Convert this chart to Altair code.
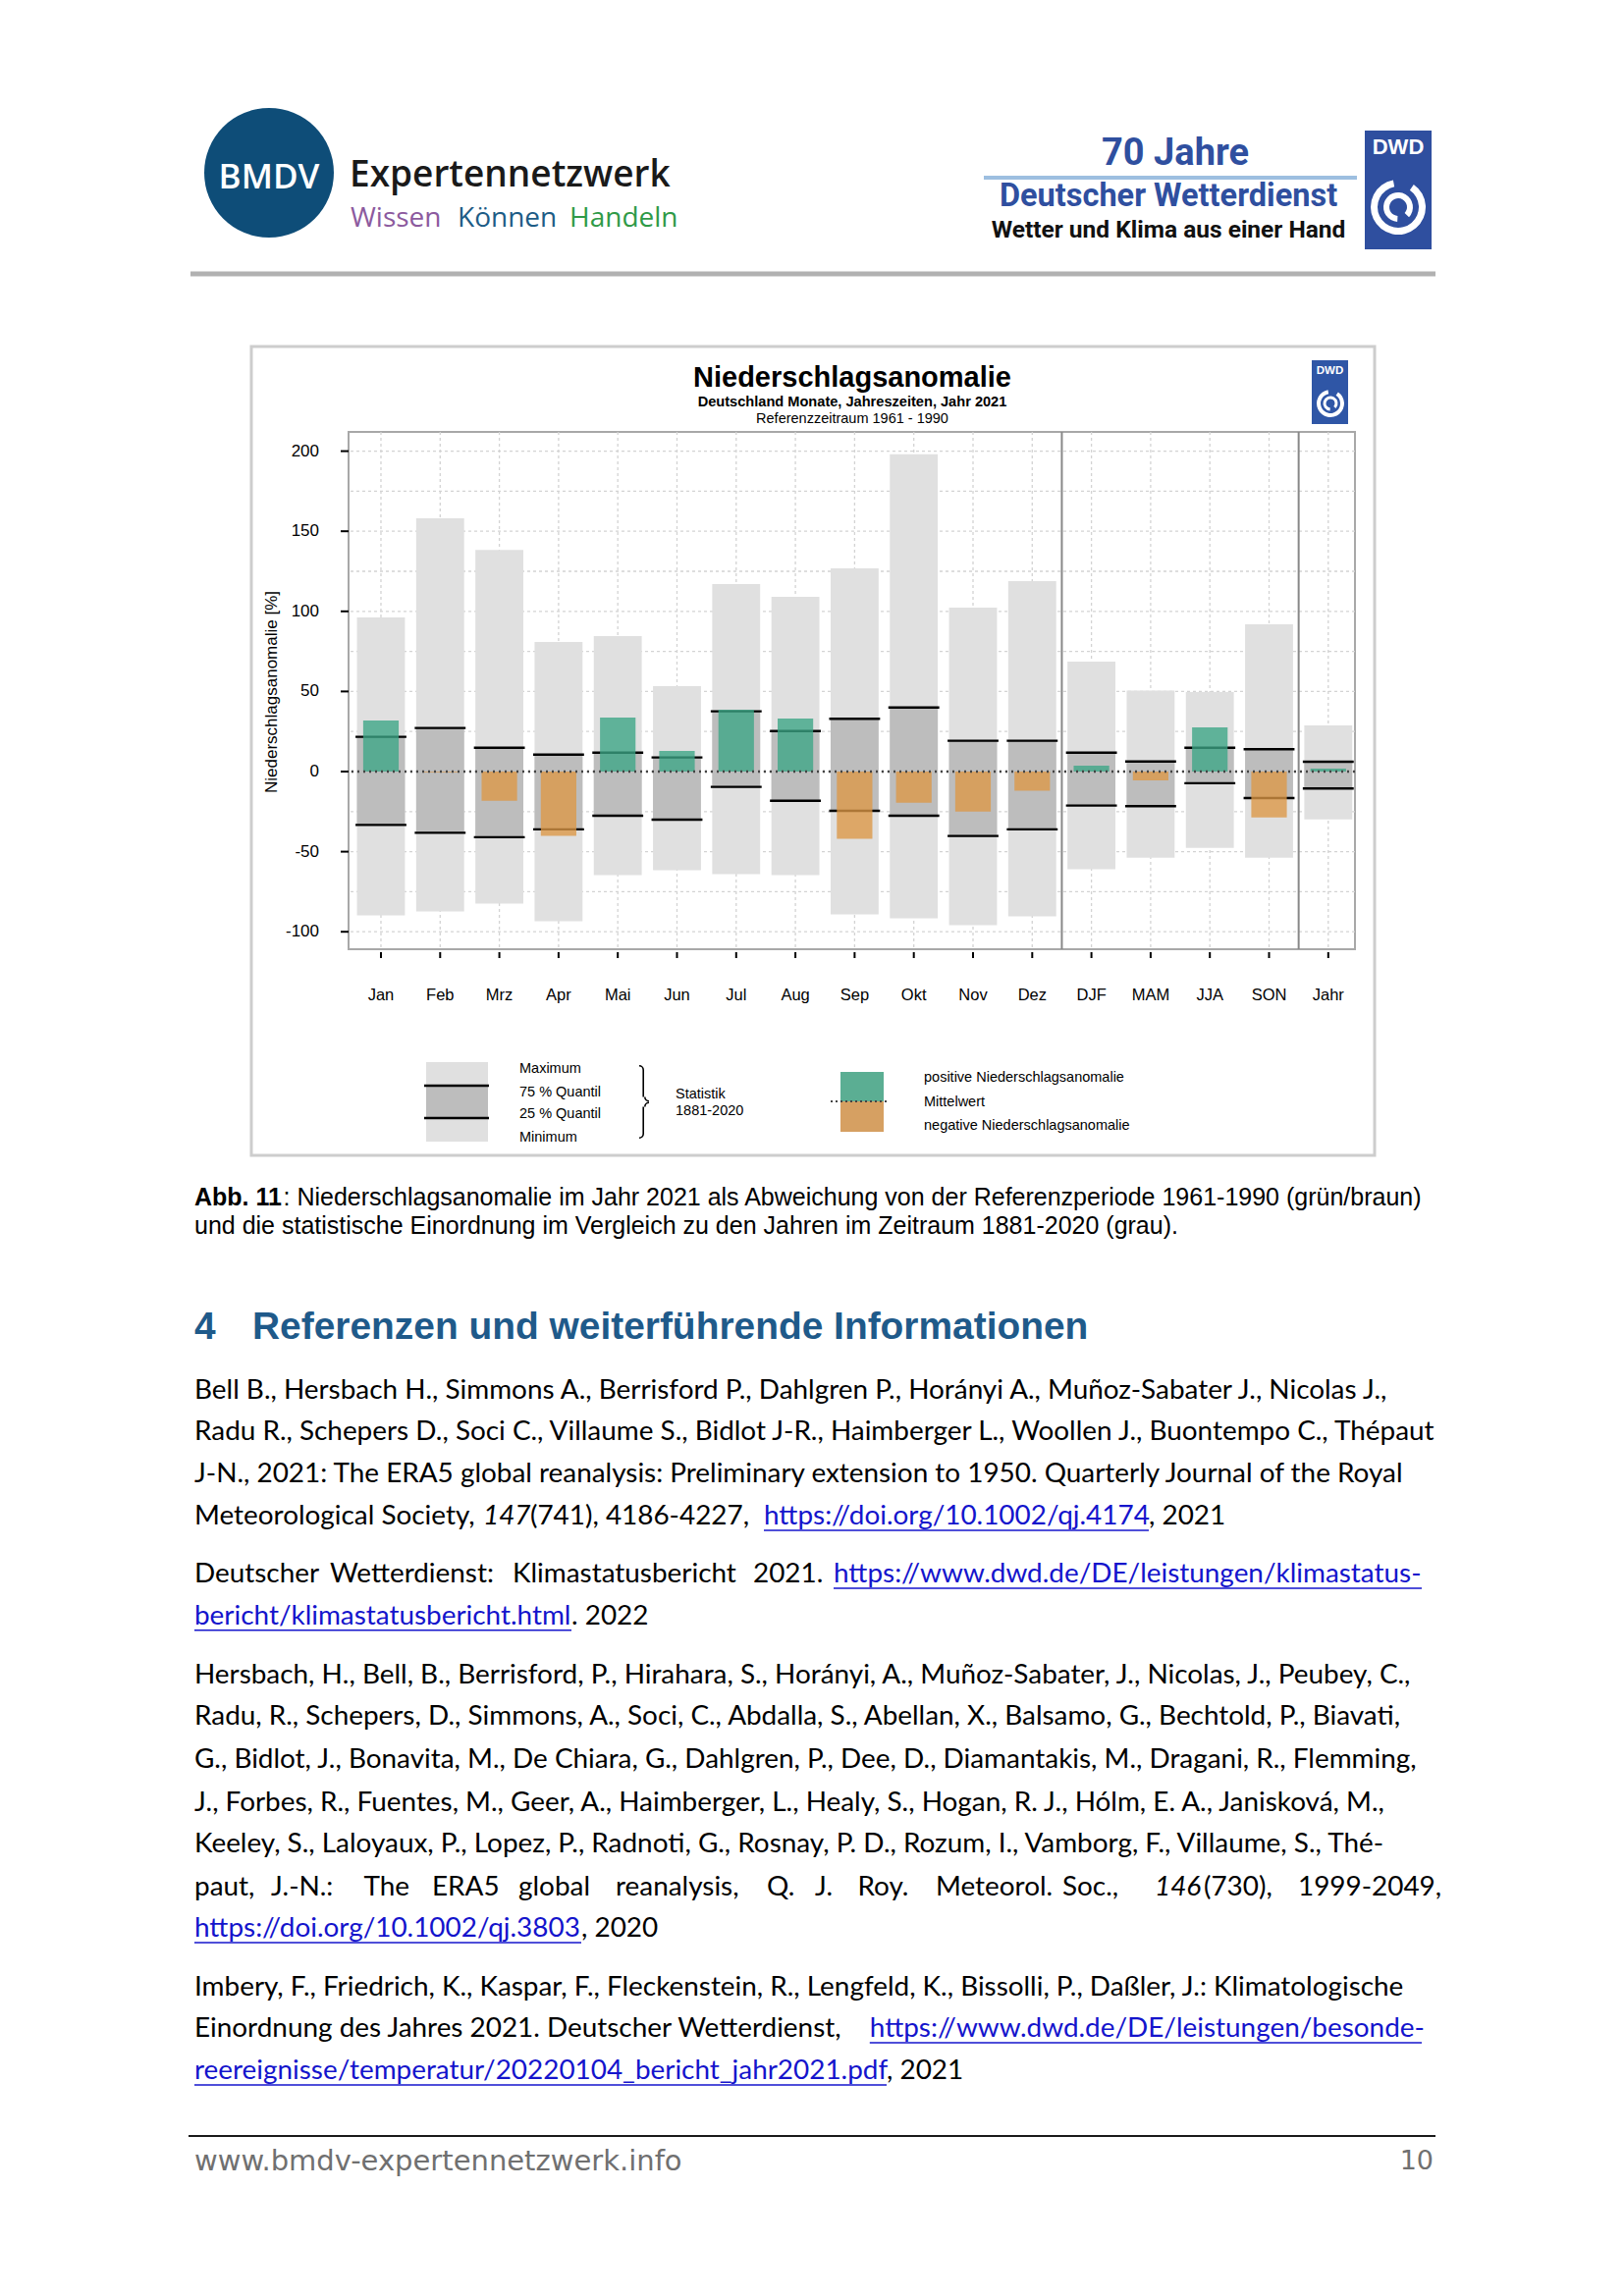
import math
import altair as alt
import pandas as pd

# ------------------------------------------------------------------ data
categories = ["Jan", "Feb", "Mrz", "Apr", "Mai", "Jun", "Jul", "Aug", "Sep", "Okt",
              "Nov", "Dez", "DJF", "MAM", "JJA", "SON", "Jahr"]
groups = ["Monat"] * 12 + ["Jahreszeit"] * 4 + ["Jahr"]
minimum = [-89.8, -87.3, -82.4, -93.5, -64.7, -61.6, -64.1, -64.7, -89.2, -91.6,
           -95.9, -90.4, -61.0, -53.7, -47.6, -53.7, -29.8]
quantil25 = [-33.3, -38.2, -41.0, -36.1, -27.6, -30.0, -9.6, -18.2, -24.5, -27.6,
             -40.2, -36.1, -21.2, -21.6, -7.3, -16.5, -10.6]
quantil75 = [21.7, 27.2, 14.9, 10.6, 11.8, 8.8, 37.6, 25.3, 32.9, 40.0,
             19.2, 19.2, 11.8, 6.3, 14.9, 13.9, 6.1]
maximum = [96.2, 158.1, 138.3, 80.9, 84.6, 53.3, 117.0, 109.0, 126.9, 198.0,
           102.3, 118.9, 68.6, 50.5, 49.6, 91.9, 28.8]
anomalie = [31.9, -0.5, -18.2, -40.2, 33.7, 12.9, 38.6, 33.1, -42.0, -19.4,
            -24.9, -12.0, 3.7, -5.5, 27.6, -28.6, 1.8]
y_ticks = [-100, -50, 0, 50, 100, 150, 200]
grid_values = [-100, -75, -50, -25, 0, 25, 50, 75, 100, 125, 150, 175, 200]

df = pd.DataFrame({
    "cat": categories,
    "idx": list(range(1, len(categories) + 1)),
    "minimum": minimum, "quantil25": quantil25, "quantil75": quantil75,
    "maximum": maximum, "anomalie": anomalie,
})
separators = [i + 0.5 for i in range(1, len(groups)) if groups[i] != groups[i - 1]]

# ------------------------------------------------------------------ layout
X0, Y0 = 355, 440          # page position of the plot area
W, H = 1025, 527
GREEN, ORANGE = "#3ba585", "#dc9745"
LGREEN, LORANGE = "#5bae93", "#d6a062"
BLUE_DWD = "#2f4f9f"
LINK = "#1414cc"

xs = alt.Scale(domain=[0.453, 17.451], nice=False, zero=False)
ys = alt.Scale(domain=[-110.9, 212.0], nice=False, zero=False)

base = alt.Chart(df).transform_calculate(
    bl="datum.idx - 0.405", br="datum.idx + 0.405",
    ql="datum.idx - 0.43", qr="datum.idx + 0.43",
    al="datum.idx - 0.30", ar="datum.idx + 0.30",
    null0="0",
)

hgrid = alt.Chart(pd.DataFrame({"v": grid_values})).mark_rule(
    color="#d3d3d3", strokeDash=[3, 3], strokeWidth=1.3
).encode(y=alt.Y("v:Q", scale=ys, axis=None))

vgrid = base.mark_rule(color="#d3d3d3", strokeDash=[3, 3], strokeWidth=1.3).encode(
    x=alt.X("idx:Q", scale=xs, axis=None))

range_bars = base.mark_rect(color="#e0e0e0").encode(
    x=alt.X("bl:Q", scale=xs, axis=None), x2="br",
    y=alt.Y("minimum:Q", scale=ys, axis=None), y2="maximum")

iqr_bars = base.mark_rect(color="#bdbdbd").encode(
    x=alt.X("bl:Q", scale=xs, axis=None), x2="br",
    y=alt.Y("quantil25:Q", scale=ys, axis=None), y2="quantil75")

q75_lines = base.mark_rule(color="black", strokeWidth=2.4).encode(
    x=alt.X("ql:Q", scale=xs, axis=None), x2="qr",
    y=alt.Y("quantil75:Q", scale=ys, axis=None))

q25_lines = base.mark_rule(color="black", strokeWidth=2.4).encode(
    x=alt.X("ql:Q", scale=xs, axis=None), x2="qr",
    y=alt.Y("quantil25:Q", scale=ys, axis=None))

anom_bars = base.mark_rect(opacity=0.78).encode(
    x=alt.X("al:Q", scale=xs, axis=None), x2="ar",
    y=alt.Y("null0:Q", scale=ys, axis=None), y2="anomalie",
    color=alt.condition("datum.anomalie >= 0", alt.value(GREEN), alt.value(ORANGE)))

zero_line = alt.Chart(pd.DataFrame({"v": [0]})).mark_rule(
    color="#444444", strokeDash=[2, 4], strokeWidth=2.5
).encode(y=alt.Y("v:Q", scale=ys, axis=None))

sep_lines = alt.Chart(pd.DataFrame({"s": separators})).mark_rule(
    color="#888888", strokeWidth=2
).encode(x=alt.X("s:Q", scale=xs, axis=None))

# axes, drawn from the tick arrays through the same scales
ytick_df = pd.DataFrame({"t": y_ticks})
y_tick_marks = alt.Chart(ytick_df).mark_rule(color="black", strokeWidth=2).encode(
    y=alt.Y("t:Q", scale=ys, axis=None), x=alt.value(-8), x2=alt.value(0))
y_tick_labels = alt.Chart(ytick_df).transform_calculate(
    lab="'' + datum.t"
).mark_text(
    align="right", baseline="middle", font="Liberation Sans", fontSize=17, color="black"
).encode(y=alt.Y("t:Q", scale=ys, axis=None), x=alt.value(-30), text="lab:N")
x_tick_marks = alt.Chart(df).mark_rule(color="black", strokeWidth=2).encode(
    x=alt.X("idx:Q", scale=xs, axis=None), y=alt.value(H + 3), y2=alt.value(H + 9))
x_tick_labels = alt.Chart(df).mark_text(
    align="center", baseline="middle", font="Liberation Sans", fontSize=16.5, color="black"
).encode(x=alt.X("idx:Q", scale=xs, axis=None), y=alt.value(1014 - Y0), text="cat:N")

# ------------------------------------------------------------------ page decorations
ONE = pd.DataFrame({"k": [0]})


def T(s, X, Y, size, color="#000000", font="Liberation Sans", weight="normal",
      align="left", baseline="middle", style="normal", angle=None):
    kw = dict(text=s, fontSize=size, color=color, font=font, fontWeight=weight,
              align=align, baseline=baseline, fontStyle=style)
    if angle is not None:
        kw["angle"] = angle
    return alt.Chart(ONE).mark_text(**kw).encode(x=alt.value(X - X0), y=alt.value(Y - Y0))


def R(X1, Y1, X2, Y2, fill=None, stroke=None, sw=1.0):
    kw = {}
    if fill is not None:
        kw["fill"] = fill
    else:
        kw["fill"] = "white"
        kw["fillOpacity"] = 0
    if stroke is not None:
        kw["stroke"] = stroke
        kw["strokeWidth"] = sw
    return alt.Chart(ONE).mark_rect(**kw).encode(
        x=alt.value(X1 - X0), x2=alt.value(X2 - X0),
        y=alt.value(Y1 - Y0), y2=alt.value(Y2 - Y0))


def HL(X1, X2, Y, color, sw, dash=None):
    kw = dict(color=color, strokeWidth=sw)
    if dash is not None:
        kw["strokeDash"] = dash
    return alt.Chart(ONE).mark_rule(**kw).encode(
        x=alt.value(X1 - X0), x2=alt.value(X2 - X0), y=alt.value(Y - Y0))


def VL(X, Y1, Y2, color, sw):
    return alt.Chart(ONE).mark_rule(color=color, strokeWidth=sw).encode(
        x=alt.value(X - X0), y=alt.value(Y1 - Y0), y2=alt.value(Y2 - Y0))


def ARC(X, Y, r_out, r_in, t1, t2, color):
    return alt.Chart(ONE).mark_arc(radius=r_out, radius2=r_in, theta=t1, theta2=t2,
                                   color=color).encode(
        x=alt.value(X - X0), y=alt.value(Y - Y0))


PI = math.pi
deco = []

# header
deco += [
    ARC(274, 176, 66, 0, 0, 2 * PI, "#0e4d78"),
    T("BMDV", 274, 192, 35, "white", "Open Sans", 600, "center", "alphabetic"),
    T("Expertennetzwerk", 356, 190, 37, "#1a1a1a", "Open Sans", 600, baseline="alphabetic"),
    T("Wissen", 357, 231, 28, "#8c5a9e", "Open Sans", 400, baseline="alphabetic"),
    T("Können", 466, 231, 28, "#1d5c86", "Open Sans", 400, baseline="alphabetic"),
    T("Handeln", 580, 231, 28, "#2f9a47", "Open Sans", 400, baseline="alphabetic"),
    T("70 Jahre", 1197, 168, 38, BLUE_DWD, "Roboto", "bold", "center", "alphabetic"),
    HL(1002, 1382, 181, "#9dbfe0", 4),
    T("Deutscher Wetterdienst", 1190, 210, 32.5, BLUE_DWD, "Roboto", "bold", "center", "alphabetic"),
    T("Wetter und Klima aus einer Hand", 1190, 242, 24.5, "#111111", "Roboto", "bold",
      "center", "alphabetic"),
    R(1390, 133, 1458, 254, fill=BLUE_DWD),
    T("DWD", 1424, 157, 22, "white", "Liberation Sans", "bold", "center", "alphabetic"),
    ARC(1424, 211, 28, 21, 0.6, 6.1, "white"),
    ARC(1424, 211, 15, 9, 3.2, 8.6, "white"),
    HL(194, 1462, 279, "#b1b1b1", 5),
]

# chart frame, titles, logo, y title
deco += [
    R(256, 353, 1400, 1177, stroke="#cdcdcd", sw=3),
    T("Niederschlagsanomalie", 868, 394, 29, weight="bold", align="center", baseline="alphabetic"),
    T("Deutschland Monate, Jahreszeiten, Jahr 2021", 868, 414, 14.6, weight="bold",
      align="center", baseline="alphabetic"),
    T("Referenzzeitraum 1961 - 1990", 868, 431, 14.5, align="center", baseline="alphabetic"),
    R(1336, 367, 1373, 432, fill="#2f56a6"),
    T("DWD", 1354.5, 381, 11.5, "white", "Liberation Sans", "bold", "center", "alphabetic"),
    ARC(1355, 411, 14, 10, 0.6, 6.1, "white"),
    ARC(1355, 411, 7.5, 4.5, 3.2, 8.6, "white"),
    T("Niederschlagsanomalie [%]", 277, 705, 17, align="center", angle=270),
]

# legend
deco += [
    R(434, 1082, 497, 1163, fill="#e0e0e0"),
    R(434, 1106, 497, 1139, fill="#bdbdbd"),
    HL(432, 498, 1106, "black", 2.4),
    HL(432, 498, 1139, "black", 2.4),
    T("Maximum", 529, 1089, 14.5),
    T("75 % Quantil", 529, 1113, 14.5),
    T("25 % Quantil", 529, 1135, 14.5),
    T("Minimum", 529, 1159, 14.5),
    ARC(651, 1090, 5, 3.4, 0, PI / 2, "black"),
    VL(655.2, 1090, 1117.5, "black", 1.6),
    ARC(661, 1117.5, 5, 3.4, PI, 1.5 * PI, "black"),
    ARC(661, 1127.5, 5, 3.4, 1.5 * PI, 2 * PI, "black"),
    VL(655.2, 1127.5, 1155, "black", 1.6),
    ARC(651, 1155, 5, 3.4, PI / 2, PI, "black"),
    T("Statistik", 688, 1115, 14.5),
    T("1881-2020", 688, 1132, 14.5),
    R(856, 1092, 900, 1122, fill=LGREEN),
    R(856, 1122, 900, 1153, fill=LORANGE),
    HL(846, 905, 1122, "#444444", 2, [2, 3]),
    T("positive Niederschlagsanomalie", 941, 1098, 14.5),
    T("Mittelwert", 941, 1123, 14.5),
    T("negative Niederschlagsanomalie", 941, 1147, 14.5),
]

# caption and heading
deco += [
    T("Abb. 11", 198, 1220, 25, weight="bold"),
    T(": Niederschlagsanomalie im Jahr 2021 als Abweichung von der Referenzperiode "
      "1961-1990 (grün/braun)", 288.5, 1220, 25),
    T("und die statistische Einordnung im Vergleich zu den Jahren im Zeitraum "
      "1881-2020 (grau).", 198, 1249, 25),
    T("4", 198, 1352, 38.9, "#1f5a8a", weight="bold"),
    T("Referenzen und weiterführende Informationen", 257, 1352, 38.9, "#1f5a8a", weight="bold"),
]

# references: each line is a list of (text, x, kind[, link_end])
RF, RS = "Lato", 27.9
ref_lines = [
    (1416.7, [("Bell B., Hersbach H., Simmons A., Berrisford P., Dahlgren P., Horányi A., "
               "Muñoz-Sabater J., Nicolas J.,", 198, "n")]),
    (1459, [("Radu R., Schepers D., Soci C., Villaume S., Bidlot J-R., Haimberger L., "
             "Woollen J., Buontempo C., Thépaut", 198, "n")]),
    (1501.7, [("J-N., 2021: The ERA5 global reanalysis: Preliminary extension to 1950. "
               "Quarterly Journal of the Royal", 198, "n")]),
    (1545, [("Meteorological Society,", 198, "n"), ("147", 492, "i"),
            ("(741), 4186-4227,", 540, "n"),
            ("https://doi.org/10.1002/qj.4174", 778, "l", 1170), (", 2021", 1170, "n")]),
    (1604, [("Deutscher", 198, "n"), ("Wetterdienst:", 336, "n"),
            ("Klimastatusbericht", 522, "n"), ("2021.", 767, "n"),
            ("https://www.dwd.de/DE/leistungen/klimastatus-", 849, "l", 1448)]),
    (1646.7, [("bericht/klimastatusbericht.html", 198, "l", 582), (". 2022", 582, "n")]),
    (1706.7, [("Hersbach, H., Bell, B., Berrisford, P., Hirahara, S., Horányi, A., "
               "Muñoz-Sabater, J., Nicolas, J., Peubey, C.,", 198, "n")]),
    (1749, [("Radu, R., Schepers, D., Simmons, A., Soci, C., Abdalla, S., Abellan, X., "
             "Balsamo, G., Bechtold, P., Biavati,", 198, "n")]),
    (1793, [("G., Bidlot, J., Bonavita, M., De Chiara, G., Dahlgren, P., Dee, D., "
             "Diamantakis, M., Dragani, R., Flemming,", 198, "n")]),
    (1836.7, [("J., Forbes, R., Fuentes, M., Geer, A., Haimberger, L., Healy, S., Hogan, R. J., "
               "Hólm, E. A., Janisková, M.,", 198, "n")]),
    (1879, [("Keeley, S., Laloyaux, P., Lopez, P., Radnoti, G., Rosnay, P. D., Rozum, I., "
             "Vamborg, F., Villaume, S., Thé-", 198, "n")]),
    (1922.7, [("paut,", 198, "n"), ("J.-N.:", 276, "n"), ("The", 370.5, "n"),
              ("ERA5", 440, "n"), ("global", 528, "n"), ("reanalysis,", 627, "n"),
              ("Q.", 781, "n"), ("J.", 830, "n"), ("Roy.", 873.5, "n"),
              ("Meteorol.", 953, "n"), ("Soc.,", 1082, "n"), ("146", 1176, "i"),
              ("(730),", 1226, "n"), ("1999-2049,", 1322, "n")]),
    (1965, [("https://doi.org/10.1002/qj.3803", 198, "l", 592), (", 2020", 592, "n")]),
    (2025, [("Imbery, F., Friedrich, K., Kaspar, F., Fleckenstein, R., Lengfeld, K., "
             "Bissolli, P., Daßler, J.: Klimatologische", 198, "n")]),
    (2067, [("Einordnung des Jahres 2021. Deutscher Wetterdienst,", 198, "n"),
            ("https://www.dwd.de/DE/leistungen/besonde-", 885.8, "l", 1448)]),
    (2110, [("reereignisse/temperatur/20220104_bericht_jahr2021.pdf", 198, "l", 903),
            (", 2021", 903, "n")]),
]
for y, segs in ref_lines:
    for seg in segs:
        s, x, kind = seg[0], seg[1], seg[2]
        if kind == "l":
            deco.append(T(s, x, y, RS, LINK, RF))
            deco.append(HL(x, seg[3], y + 14, LINK, 1.6))
        elif kind == "i":
            deco.append(T(s, x, y, RS, "#000000", RF, style="italic"))
        else:
            deco.append(T(s, x, y, RS, "#000000", RF))

# footer
deco += [
    HL(192, 1462, 2176, "#1a1a1a", 2.2),
    T("www.bmdv-expertennetzwerk.info", 198, 2202, 29, "#707070", "DejaVu Sans"),
    T("10", 1460, 2202, 27, "#707070", "DejaVu Sans", align="right"),
]

chart = alt.layer(
    hgrid, vgrid, range_bars, iqr_bars, q75_lines, q25_lines, anom_bars,
    zero_line, sep_lines, y_tick_marks, y_tick_labels, x_tick_marks, x_tick_labels, *deco
).properties(
    width=W, height=H,
    autosize=alt.AutoSizeParams(type="none"),
    padding={"left": X0 - 8, "top": Y0 - 8, "right": 1630 - (X0 - 8) - W,
             "bottom": 2300 - (Y0 - 8) - H},
    background="white",
).configure_view(stroke="#a8a8a8", strokeWidth=2)

chart.save("out.html", embed_options={"renderer": "svg", "actions": False})
